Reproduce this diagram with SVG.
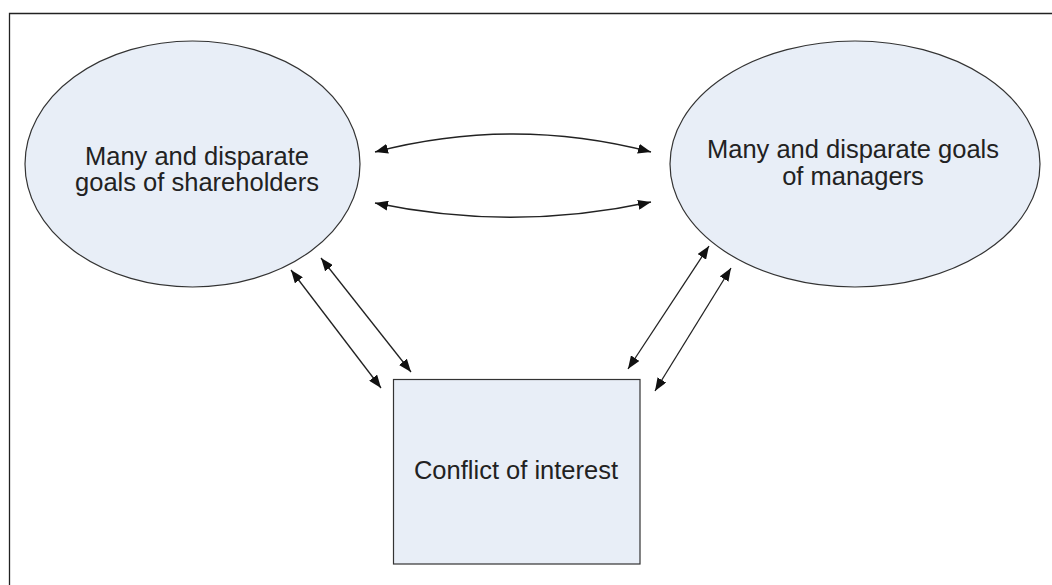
<svg xmlns="http://www.w3.org/2000/svg" width="1052" height="585" viewBox="0 0 1052 585">
<style>
.node{fill:#e8eef7;stroke:#333;stroke-width:1.2}
.lbl{font-family:"Liberation Sans",Arial,sans-serif;font-size:25.5px;fill:#222;text-anchor:middle}
.conn{fill:none;stroke:#222;stroke-width:1.3;marker-start:url(#ah);marker-end:url(#ah)}
</style>
<defs>
<marker id="ah" viewBox="0 0 13 10" refX="13" refY="5" markerWidth="13" markerHeight="10" markerUnits="userSpaceOnUse" orient="auto-start-reverse">
<path d="M0,0 L13,5 L0,10 z" fill="#111"/>
</marker>
</defs>
<rect width="1052" height="585" fill="#fff"/>
<path d="M9.5,590 V13.5 H1060" fill="none" stroke="#222" stroke-width="1.3"/>
<g id="shareholders">
<ellipse class="node" cx="192.5" cy="164" rx="167.5" ry="123"/>
<text class="lbl" x="197" y="165">Many and disparate</text>
<text class="lbl" x="197" y="191">goals of shareholders</text>
</g>
<g id="managers">
<ellipse class="node" cx="855" cy="164" rx="185" ry="123"/>
<text class="lbl" x="853" y="158">Many and disparate goals</text>
<text class="lbl" x="853" y="185">of managers</text>
</g>
<g id="conflict">
<rect class="node" x="393.5" y="379.5" width="246.5" height="184.5"/>
<text class="lbl" x="516" y="479">Conflict of interest</text>
</g>
<g id="connectors">
<path class="conn" d="M375,152 Q513,116 651,152"/>
<path class="conn" d="M375,203 Q513,232 651,202"/>
<path class="conn" d="M291,270 L381,388"/>
<path class="conn" d="M321,258 L411,372"/>
<path class="conn" d="M709,246 L628,369"/>
<path class="conn" d="M731,268 L655,391"/>
</g>
</svg>
